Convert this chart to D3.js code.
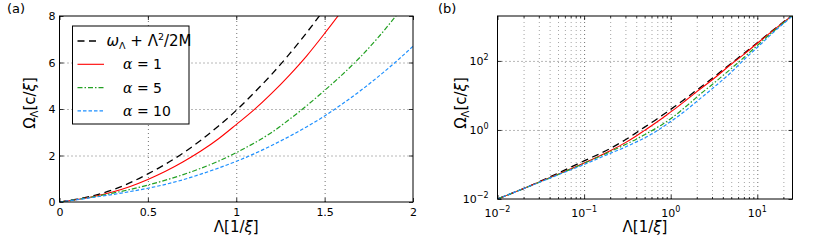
<!DOCTYPE html>
<html>
<head>
<meta charset="utf-8">
<script src="https://cdn.jsdelivr.net/npm/d3@7"></script>
<style>
  body { margin: 0; background: #fff; }
  svg { display: block; font-family: "DejaVu Sans", sans-serif; }
  .grid line { stroke: #333; stroke-width: 0.7; stroke-dasharray: 1,3; }
  .grid .minor line { stroke: #666; stroke-width: 0.6; stroke-dasharray: 1,3; }
  .grid path, .ticks path { display: none; }
  .ticks line { stroke: #000; stroke-width: 0.8; }
</style>
</head>
<body>
<svg id="chart" width="830" height="246"></svg>
<script>
// values, Λ in units of 1/ξ, Ω in units of c/ξ
var lambda   = [0, 0.01, 0.02, 0.05, 0.1, 0.2, 0.3, 0.4, 0.5, 0.6, 0.7, 0.8, 0.9, 1.0, 1.1, 1.2, 1.3, 1.4, 1.5, 1.6, 1.7, 1.8, 1.9, 2.0, 3, 5, 7, 10, 15, 20, 25];
var omegaFree = [0, 0.01, 0.0201, 0.056, 0.127, 0.29, 0.52, 0.83, 1.21, 1.63, 2.11, 2.66, 3.27, 3.94, 4.69, 5.49, 6.36, 7.30, 8.31, 9.38, 10.5, 11.7, 13.0, 14.3, 31, 85, 165, 335, 760, 1340, 2060];
var omegaA1  = [0, 0.01, 0.02, 0.052, 0.11, 0.25, 0.43, 0.67, 0.97, 1.32, 1.73, 2.19, 2.72, 3.33, 3.96, 4.67, 5.45, 6.30, 7.25, 8.25, 9.3, 10.4, 11.6, 12.85, 28, 80, 155, 325, 740, 1310, 2000];
var omegaA5  = [0, 0.01, 0.02, 0.051, 0.108, 0.235, 0.38, 0.54, 0.73, 0.94, 1.18, 1.45, 1.76, 2.12, 2.53, 2.99, 3.55, 4.15, 4.80, 5.48, 6.22, 7.05, 7.97, 8.96, 20.5, 60, 125, 280, 690, 1250, 1960];
var omegaA10 = [0, 0.01, 0.02, 0.05, 0.10, 0.21, 0.32, 0.45, 0.59, 0.76, 0.96, 1.20, 1.46, 1.75, 2.07, 2.43, 2.82, 3.24, 3.70, 4.22, 4.77, 5.37, 6.01, 6.70, 15.5, 47, 108, 245, 640, 1200, 1930];

var linTicksX = [0, 0.5, 1, 1.5, 2];
var linTicksY = [0, 2, 4, 6, 8];
var logTicksX = [-2, -1, 0, 1];   // exponents
var logTicksY = [-2, 0, 2];
var alphaLabels = ['1', '5', '10'];

var series = [
	{ values: omegaFree, color: '#000',    dash: '7,4.5',       width: 1.3 },
	{ values: omegaA1,   color: '#ff0000', dash: null,          width: 1.1 },
	{ values: omegaA5,   color: '#22a022', dash: '5,2,1.5,2',   width: 1.2 },
	{ values: omegaA10,  color: '#1e90ff', dash: '3.5,2',       width: 1.2 }
];

var svg = d3.select('#chart');

var A = { left: 59.5, right: 413, top: 16, bottom: 202 };
var B = { left: 497.5, right: 792.5, top: 16, bottom: 199 };

var xA = d3.scaleLinear().domain([0, 2]).range([A.left, A.right]);
var yA = d3.scaleLinear().domain([0, 8]).range([A.bottom, A.top]);
var xB = d3.scaleLog().domain([0.01, 25.5]).range([B.left, B.right]);
var yB = d3.scaleLog().domain([0.01, 2000]).range([B.bottom, B.top]);

var defs = svg.append('defs');
defs.append('clipPath').attr('id', 'clipA').append('rect')
	.attr('x', A.left).attr('y', A.top).attr('width', A.right - A.left).attr('height', A.bottom - A.top);
defs.append('clipPath').attr('id', 'clipB').append('rect')
	.attr('x', B.left).attr('y', B.top).attr('width', B.right - B.left).attr('height', B.bottom - B.top);

function styleTickText(g) {
	g.selectAll('text').attr('font-family', '"DejaVu Sans", sans-serif').attr('font-size', 11).attr('fill', '#000');
	g.attr('font-family', null).attr('font-size', null);
}

// ---------- panel (a) ----------
var gridA = svg.append('g').attr('class', 'grid');
gridA.append('g')
	.attr('transform', 'translate(0,' + A.bottom + ')')
	.call(d3.axisBottom(xA).tickValues([0.5, 1, 1.5]).tickSize(-(A.bottom - A.top)).tickFormat(''));
gridA.append('g')
	.attr('transform', 'translate(' + A.left + ',0)')
	.call(d3.axisLeft(yA).tickValues([2, 4, 6]).tickSize(-(A.right - A.left)).tickFormat(''));

var curvesA = svg.append('g').attr('clip-path', 'url(#clipA)');
series.forEach(function(s) {
	var pts = lambda.map(function(l, i) { return { x: l, y: s.values[i] }; })
		.filter(function(d) { return d.x <= 2; });
	var line = d3.line()
		.x(function(d) { return xA(d.x); })
		.y(function(d) { return yA(d.y); })
		.curve(d3.curveMonotoneX);
	curvesA.append('path')
		.datum(pts)
		.attr('fill', 'none')
		.attr('stroke', s.color)
		.attr('stroke-width', s.width)
		.attr('stroke-dasharray', s.dash)
		.attr('d', line);
});

var ticksA = svg.append('g').attr('class', 'ticks');
ticksA.append('g').attr('transform', 'translate(0,' + A.bottom + ')')
	.call(d3.axisBottom(xA).tickValues(linTicksX).tickSizeInner(-4).tickSizeOuter(0).tickPadding(6).tickFormat(d3.format('')))
	.call(styleTickText);
ticksA.append('g').attr('transform', 'translate(0,' + A.top + ')')
	.call(d3.axisTop(xA).tickValues(linTicksX).tickSizeInner(-4).tickSizeOuter(0).tickFormat(''));
ticksA.append('g').attr('transform', 'translate(' + A.left + ',0)')
	.call(d3.axisLeft(yA).tickValues(linTicksY).tickSizeInner(-4).tickSizeOuter(0).tickPadding(4).tickFormat(d3.format('')))
	.call(styleTickText);
ticksA.append('g').attr('transform', 'translate(' + A.right + ',0)')
	.call(d3.axisRight(yA).tickValues(linTicksY).tickSizeInner(-4).tickSizeOuter(0).tickFormat(''));

svg.append('rect')
	.attr('x', A.left).attr('y', A.top).attr('width', A.right - A.left).attr('height', A.bottom - A.top)
	.attr('fill', 'none').attr('stroke', '#000').attr('stroke-width', 1);

// legend
var leg = svg.append('g');
leg.append('rect')
	.attr('x', 72.5).attr('y', 26).attr('width', 116.5).attr('height', 98)
	.attr('fill', '#fff').attr('stroke', '#000').attr('stroke-width', 1);
series.forEach(function(s, i) {
	var ly = 41 + i * 23.3;
	leg.append('line')
		.attr('x1', 77.5).attr('x2', i == 0 ? 96 : 104)
		.attr('y1', ly).attr('y2', ly)
		.attr('stroke', s.color)
		.attr('stroke-width', s.width)
		.attr('stroke-dasharray', s.dash);
	var t = leg.append('text').attr('y', ly + 5).attr('font-size', 14);
	if (i == 0) {
		t.attr('x', 106.5).attr('font-size', 15);
		t.append('tspan').attr('font-style', 'italic').text('ω');
		t.append('tspan').attr('font-size', 9.5).attr('dy', 3).text('Λ');
		t.append('tspan').attr('dy', -3).text(' + Λ');
		t.append('tspan').attr('font-size', 9.5).attr('dy', -6).text('2');
		t.append('tspan').attr('dy', 6).text('/2M');
	} else {
		t.attr('x', 123);
		t.append('tspan').attr('font-style', 'italic').attr('font-family', '"DejaVu Serif", serif').text('α');
		t.append('tspan').text(' = ' + alphaLabels[i - 1]);
	}
});

// ---------- panel (b) ----------
var gridB = svg.append('g').attr('class', 'grid');
var minorX = xB.ticks().filter(function(v) { return Math.abs(Math.log10(v) - Math.round(Math.log10(v))) > 1e-6; });
gridB.append('g').attr('class', 'minor')
	.attr('transform', 'translate(0,' + B.bottom + ')')
	.call(d3.axisBottom(xB).tickValues(minorX).tickSize(-(B.bottom - B.top)).tickFormat(''));
gridB.append('g')
	.attr('transform', 'translate(0,' + B.bottom + ')')
	.call(d3.axisBottom(xB).tickValues([0.1, 1, 10]).tickSize(-(B.bottom - B.top)).tickFormat(''));
gridB.append('g')
	.attr('transform', 'translate(' + B.left + ',0)')
	.call(d3.axisLeft(yB).tickValues([1, 100]).tickSize(-(B.right - B.left)).tickFormat(''));

var curvesB = svg.append('g').attr('clip-path', 'url(#clipB)');
series.forEach(function(s) {
	var pts = lambda.map(function(l, i) { return { x: l, y: s.values[i] }; })
		.filter(function(d) { return d.x > 0; });
	var line = d3.line()
		.x(function(d) { return xB(d.x); })
		.y(function(d) { return yB(d.y); })
		.curve(d3.curveMonotoneX);
	curvesB.append('path')
		.datum(pts)
		.attr('fill', 'none')
		.attr('stroke', s.color)
		.attr('stroke-width', s.width)
		.attr('stroke-dasharray', s.dash)
		.attr('d', line);
});

var majorXB = logTicksX.map(function(e) { return Math.pow(10, e); });
var majorYB = logTicksY.map(function(e) { return Math.pow(10, e); });
var ticksB = svg.append('g').attr('class', 'ticks');
ticksB.append('g').attr('transform', 'translate(0,' + B.bottom + ')')
	.call(d3.axisBottom(xB).tickValues(minorX).tickSizeInner(-2).tickSizeOuter(0).tickFormat(''));
ticksB.append('g').attr('transform', 'translate(0,' + B.top + ')')
	.call(d3.axisTop(xB).tickValues(minorX).tickSizeInner(-2).tickSizeOuter(0).tickFormat(''));
ticksB.append('g').attr('transform', 'translate(0,' + B.bottom + ')')
	.call(d3.axisBottom(xB).tickValues(majorXB).tickSizeInner(-4).tickSizeOuter(0).tickFormat(''));
ticksB.append('g').attr('transform', 'translate(0,' + B.top + ')')
	.call(d3.axisTop(xB).tickValues(majorXB).tickSizeInner(-4).tickSizeOuter(0).tickFormat(''));
ticksB.append('g').attr('transform', 'translate(' + B.left + ',0)')
	.call(d3.axisLeft(yB).tickValues(majorYB).tickSizeInner(-4).tickSizeOuter(0).tickFormat(''));
ticksB.append('g').attr('transform', 'translate(' + B.right + ',0)')
	.call(d3.axisRight(yB).tickValues(majorYB).tickSizeInner(-4).tickSizeOuter(0).tickFormat(''));

function powLabel(sel, e) {
	sel.append('tspan').text('10');
	sel.append('tspan').attr('font-size', 8).attr('dy', -5).text(e < 0 ? '\u2212' + (-e) : '' + e);
}
svg.append('g').selectAll('text.xl').data(logTicksX).enter().append('text')
	.attr('x', function(e) { return xB(Math.pow(10, e)); })
	.attr('y', B.bottom + 17.5)
	.attr('text-anchor', 'middle')
	.attr('font-size', 11)
	.each(function(e) { powLabel(d3.select(this), e); });
svg.append('g').selectAll('text.yl').data(logTicksY).enter().append('text')
	.attr('x', B.left - 9)
	.attr('y', function(e) { return yB(Math.pow(10, e)) + 4.2; })
	.attr('text-anchor', 'end')
	.attr('font-size', 11)
	.each(function(e) { powLabel(d3.select(this), e); });

svg.append('rect')
	.attr('x', B.left).attr('y', B.top).attr('width', B.right - B.left).attr('height', B.bottom - B.top)
	.attr('fill', 'none').attr('stroke', '#000').attr('stroke-width', 1);

// ---------- axis titles ----------
function xTitle(cx) {
	var t = svg.append('text').attr('x', cx).attr('y', 232).attr('text-anchor', 'middle').attr('font-size', 15);
	t.append('tspan').text('Λ[1/');
	t.append('tspan').attr('font-style', 'italic').text('ξ');
	t.append('tspan').text(']');
}
function yTitle(bx, cy) {
	var t = svg.append('text')
		.attr('transform', 'translate(' + bx + ',' + cy + ') rotate(-90)')
		.attr('text-anchor', 'middle').attr('font-size', 15);
	t.append('tspan').text('Ω');
	t.append('tspan').attr('font-size', 10).attr('dy', 3).text('Λ');
	t.append('tspan').attr('dy', -3).text('[c/');
	t.append('tspan').attr('font-style', 'italic').text('ξ');
	t.append('tspan').text(']');
}
xTitle((A.left + A.right) / 2);
xTitle((B.left + B.right) / 2);
yTitle(35, 103);
yTitle(466, 103);

svg.append('text').attr('x', 7).attr('y', 13).attr('font-size', 13).text('(a)');
svg.append('text').attr('x', 438).attr('y', 13).attr('font-size', 13).text('(b)');
</script>
</body>
</html>
